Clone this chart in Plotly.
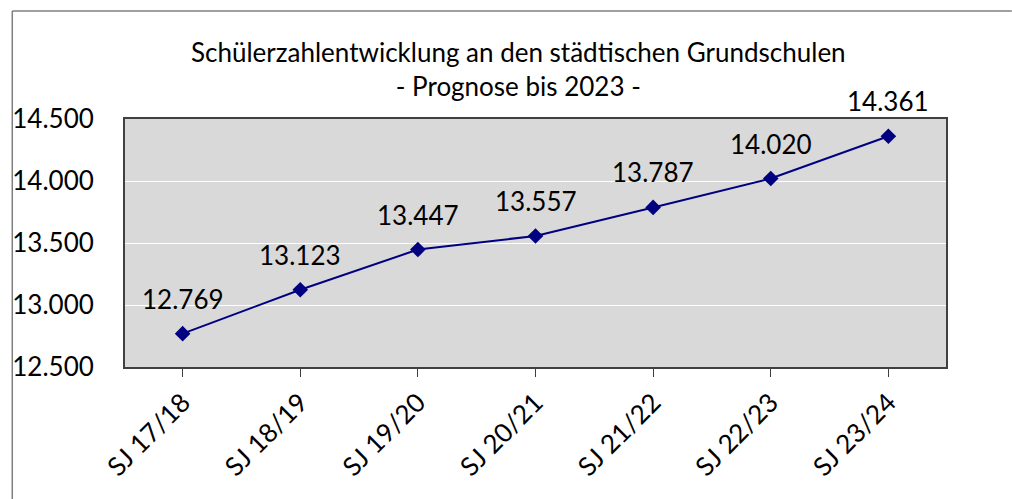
import plotly.graph_objects as go

# Schuljahre und prognostizierte Schülerzahlen
schuljahre = ["SJ 17/18", "SJ 18/19", "SJ 19/20", "SJ 20/21", "SJ 21/22", "SJ 22/23", "SJ 23/24"]
schueler = [12769, 13123, 13447, 13557, 13787, 14020, 14361]
y_ticks = [12500, 13000, 13500, 14000, 14500]
y_tick_labels = ["12.500", "13.000", "13.500", "14.000", "14.500"]

FONT = "Lato, Open Sans, sans-serif"
FS = 26


def fmt_de(v):
    return f"{v:,}".replace(",", ".")


fig = go.Figure()
fig.add_trace(go.Scatter(
    x=schuljahre,
    y=schueler,
    mode="lines+markers",
    line=dict(color="#000080", width=2),
    marker=dict(symbol="diamond", size=12, color="#000080"),
    showlegend=False,
    hoverinfo="skip",
))

# Datenbeschriftungen oberhalb der Punkte
for sj, n in zip(schuljahre, schueler):
    fig.add_annotation(
        x=sj, y=n, text=fmt_de(n), showarrow=False,
        yshift=35, font=dict(size=FS, color="black", family=FONT))

fig.update_layout(
    width=1012, height=499,
    margin=dict(l=123, r=66, t=119, b=132),
    paper_bgcolor="white",
    plot_bgcolor="#D9D9D9",
    font=dict(family=FONT, color="black"),
    annotations=list(fig.layout.annotations) + [
        dict(text="Schülerzahlentwicklung an den städtischen Grundschulen<br>- Prognose bis 2023 -",
             xref="paper", yref="paper", x=(517 - 123) / 823, y=(367 - 34) / 248,
             xanchor="center", yanchor="top", showarrow=False, align="center",
             font=dict(size=FS, family=FONT, color="black")),
    ],
    shapes=[
        # äußerer Diagrammrahmen (links und oben)
        dict(type="line", xref="paper", yref="paper",
             x0=(10 - 123) / 823, x1=(10 - 123) / 823,
             y0=(367 - 11) / 248, y1=(367 - 499) / 248,
             line=dict(color="#7f7f7f", width=1.5)),
        dict(type="line", xref="paper", yref="paper",
             x0=(10 - 123) / 823, x1=(1012 - 123) / 823,
             y0=(367 - 11) / 248, y1=(367 - 11) / 248,
             line=dict(color="#7f7f7f", width=1.5)),
    ],
)

fig.update_xaxes(
    range=[-0.49, 6.49],
    showgrid=False,
    showline=True, linecolor="#404040", linewidth=2, mirror=True,
    ticks="outside", ticklen=8, tickcolor="#404040",
    tickangle=-45,
    tickfont=dict(size=FS, family=FONT, color="black"),
)
fig.update_yaxes(
    range=[12500, 14500],
    tickvals=y_ticks, ticktext=y_tick_labels,
    showgrid=True, gridcolor="white", gridwidth=1,
    showline=True, linecolor="#404040", linewidth=2, mirror=True,
    ticks="", ticklabelstandoff=24,
    tickfont=dict(size=FS, family=FONT, color="black"),
    zeroline=False,
)

fig.write_html("out.html", config={"displayModeBar": False},
               post_script="document.body.style.margin='0';document.body.style.overflow='hidden';")
